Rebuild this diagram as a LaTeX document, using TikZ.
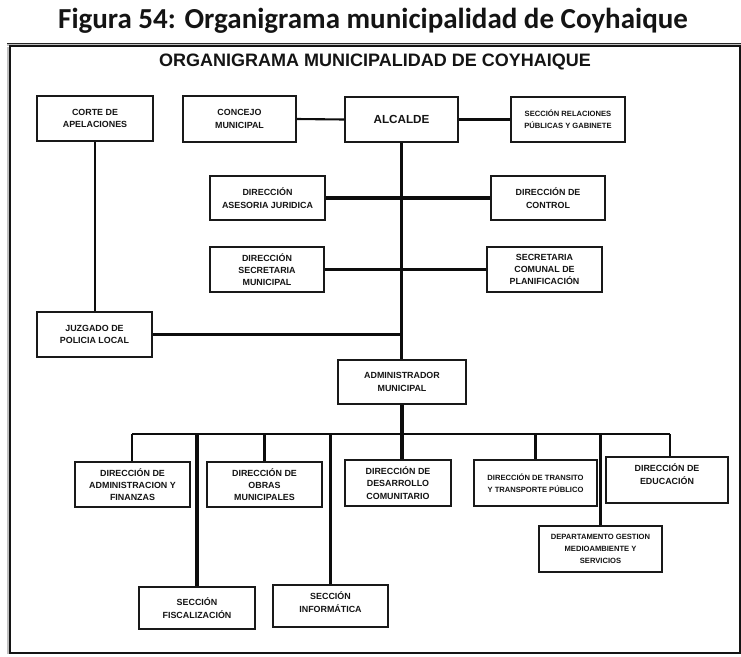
\documentclass[tikz,border=0pt]{standalone}
\usepackage{fontspec}
\setmainfont{Liberation Sans}
\newfontfamily\titlefont{Carlito}
\usetikzlibrary{shadows}
\tikzset{
  box/.style={draw=black!90, line width=1.5pt, fill=white, align=center, text=black!92,
    inner sep=1pt, font=\fontsize{8.9}{12.2}\selectfont\bfseries,
    drop shadow={shadow xshift=1.3pt, shadow yshift=-1.3pt, fill=black!40, opacity=1}},
  small/.style={font=\fontsize{7.6}{12}\selectfont\bfseries},
  thk/.style={line width=3.2pt, black!95},
  thn/.style={line width=2.1pt, black!95},
}
\newcommand\orgbox[7][]{\node[box,#1, minimum width={#5-#3}, minimum height={#6-#4}] (#2) at ({(#3+#5)/2},{(#4+#6)/2}) {#7};}
\begin{document}
\begin{tikzpicture}[x=1pt,y=-1pt]
\useasboundingbox (0,0) rectangle (741,656);
% title
\node[font=\titlefont\bfseries\fontsize{29}{32}\selectfont, text=black!92] (title) at (373,21) {Figura 54: Organigrama municipalidad de Coyhaique};
\draw[line width=3pt, black!25] (7,44.5) -- (741,44.5);
\draw[line width=1pt, black!85] (7,43) -- (741,43);
\draw[line width=2pt, black!25] (8,47) -- (8,654);
\draw[line width=1.6pt, black!92] (10,46) rectangle (740,653);
\node[font=\fontsize{18}{20}\selectfont\bfseries, text=black!92] (sub) at (375,62) {ORGANIGRAMA MUNICIPALIDAD DE COYHAIQUE};
% boxes
\orgbox{corte}{37}{96}{153}{141}{CORTE DE\\APELACIONES}
\orgbox{concejo}{183}{96}{296}{142}{CONCEJO\\MUNICIPAL}
\orgbox[font=\fontsize{11.7}{14}\selectfont\bfseries]{alcalde}{345}{97}{458}{142}{ALCALDE}
\orgbox[small]{relac}{511}{97}{625}{142}{SECCIÓN RELACIONES\\PÚBLICAS Y GABINETE}
\orgbox{asesoria}{210}{176}{325}{220}{DIRECCIÓN\\ASESORIA JURIDICA}
\orgbox{control}{491}{176}{605}{220}{DIRECCIÓN DE\\CONTROL}
\orgbox{secmun}{210}{247}{324}{292}{DIRECCIÓN\\SECRETARIA\\MUNICIPAL}
\orgbox{secplan}{487}{247}{602}{292}{SECRETARIA\\COMUNAL DE\\PLANIFICACIÓN}
\orgbox{juzgado}{37}{312}{152}{357}{JUZGADO DE\\POLICIA LOCAL}
\orgbox{admin}{338}{360}{466}{404}{ADMINISTRADOR\\MUNICIPAL}
\orgbox{finanzas}{75}{462}{190}{507}{DIRECCIÓN DE\\ADMINISTRACION Y\\FINANZAS}
\orgbox{obras}{207}{462}{322}{507}{DIRECCIÓN DE\\OBRAS\\MUNICIPALES}
\orgbox{desarrollo}{345}{460}{451}{506}{DIRECCIÓN DE\\DESARROLLO\\COMUNITARIO}
\orgbox[small]{transito}{474}{460}{597}{506}{DIRECCIÓN DE TRANSITO\\Y TRANSPORTE PÚBLICO}
\orgbox{educacion}{606}{457}{728}{503}{}
\node[font=\fontsize{8.9}{12.2}\selectfont\bfseries, text=black!92, align=center] (educacionT) at (667,474) {DIRECCIÓN DE\\EDUCACIÓN};
\orgbox[small]{depto}{539}{526}{662}{572}{DEPARTAMENTO GESTION\\MEDIOAMBIENTE Y\\SERVICIOS}
\orgbox{fiscal}{139}{587}{255}{629}{SECCIÓN\\FISCALIZACIÓN}
\orgbox{informatica}{273}{585}{388}{627}{}
\node[font=\fontsize{8.9}{12.2}\selectfont\bfseries, text=black!92, align=center] (informaticaT) at (330.5,602) {SECCIÓN\\INFORMÁTICA};
% bus coordinates
\coordinate (busL) at (132,434);
\coordinate (busR) at (670,434);
% connectors
\draw[thn] (concejo.east) -- (alcalde.west);
\draw[thk] (alcalde.east) -- (relac.west);
\draw[thk] (alcalde.south) -- (alcalde.south |- admin.north);
\draw[thk] (asesoria.east) -- (control.west);
\draw[thk] (secmun.east) -- (secplan.west);
\draw[thn] (corte.south) -- (corte.south |- juzgado.north);
\draw[thn] (juzgado.east) -- (juzgado.east -| alcalde.south);
\draw[thk] (admin.south) -- (admin.south |- desarrollo.north);
\draw[thn] (busL) -- (busR);
\draw[thn] (busL) -- (busL |- finanzas.north);
\draw[thn] (busR) -- (busR |- educacion.north);
\draw[thk] (obras.north) -- (obras.north |- busL);
\draw[thk] (transito.north) -- (transito.north |- busL);
\draw[thk] (depto.north) -- (depto.north |- busL);
\draw[thk] (fiscal.north) -- (fiscal.north |- busL);
\draw[thk] (informatica.north) -- (informatica.north |- busL);
\end{tikzpicture}
\end{document}
